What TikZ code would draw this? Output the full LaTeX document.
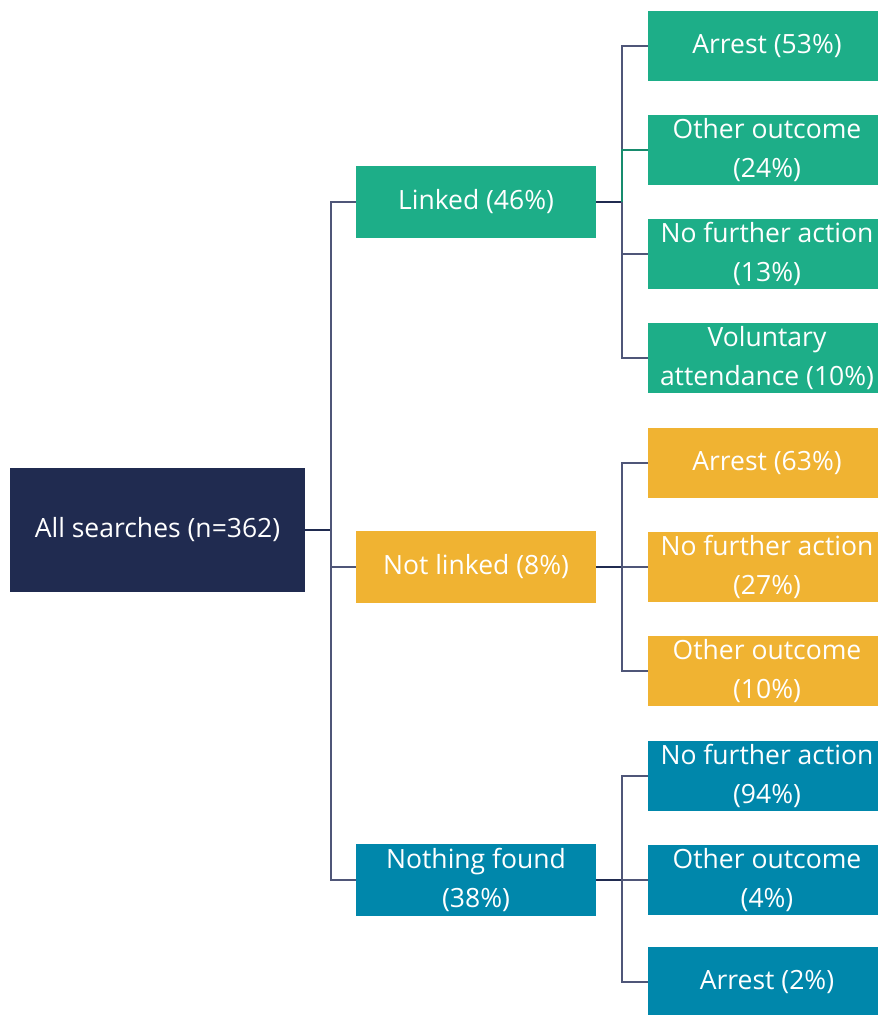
\documentclass[tikz,border=0pt]{standalone}
\usepackage{fontspec}
\setmainfont{Open Sans}
\definecolor{navy}{HTML}{202B50}
\definecolor{linkgreen}{HTML}{1DAE88}
\definecolor{amber}{HTML}{F0B332}
\definecolor{teal}{HTML}{0087AB}
\definecolor{wire}{HTML}{4F5678}
\begin{document}
\begin{tikzpicture}[x=1pt, y=-1pt,
  box/.style={text=white, align=center, inner sep=0pt, font=\fontsize{26.5}{39}\selectfont},
  root/.style={box, fill=navy, minimum width=295pt, minimum height=124pt},
  mid/.style={box, minimum width=240pt, minimum height=72pt},
  leaf/.style={box, minimum width=238pt, minimum height=70pt},
  link/.style={draw=wire, line width=1.5pt}]
\useasboundingbox (0,0) rectangle (878,1015);
% root and first split
\node[root] (all) at (157.5,530) {All searches (n=362)};
\node[mid, fill=linkgreen] (linked) at (476,202) {Linked (46\%)};
\node[mid, fill=amber] (notlinked) at (476,567) {Not linked (8\%)};
\node[mid, fill=teal] (nothing) at (476,880) {Nothing found\\(38\%)};
\coordinate (trunk) at (331,530);
\draw[link, draw=navy] (all.east) -- (trunk);
\foreach \n in {linked,notlinked,nothing}
  \draw[link] (trunk) |- (\n.west);
% outcomes of linked
\foreach \i/\y/\txt in {1/46/{Arrest (53\%)}, 2/150/{Other outcome\\(24\%)},
    3/254/{No further action\\(13\%)}, 4/358/{Voluntary\\attendance (10\%)}}
  \node[leaf, fill=linkgreen] (lk\i) at (767,\y) {\txt};
% outcomes of not linked
\foreach \i/\y/\txt in {1/463/{Arrest (63\%)}, 2/567/{No further action\\(27\%)},
    3/671/{Other outcome\\(10\%)}}
  \node[leaf, fill=amber] (nl\i) at (767,\y) {\txt};
% outcomes of nothing found
\foreach \i/\y/\txt in {1/776/{No further action\\(94\%)}, 2/880/{Other outcome\\(4\%)},
    3/982/{Arrest (2\%)}}
  \node[leaf, fill=teal] (nf\i) at (767,\y) {\txt};
% forks
\draw[link, draw=navy] (linked.east) -- ++(26,0) coordinate (lkfork);
\foreach \i in {1,3,4}
  \draw[link] (lkfork) |- (lk\i.west);
\draw[link, draw=linkgreen!80!black] (lkfork) |- (lk2.west);
\draw[link, draw=navy] (notlinked.east) -- ++(26,0) coordinate (nlfork);
\foreach \i in {1,2,3}
  \draw[link] (nlfork) |- (nl\i.west);
\draw[link, draw=navy] (nothing.east) -- ++(26,0) coordinate (nffork);
\foreach \i in {1,2,3}
  \draw[link] (nffork) |- (nf\i.west);
\end{tikzpicture}
\end{document}
